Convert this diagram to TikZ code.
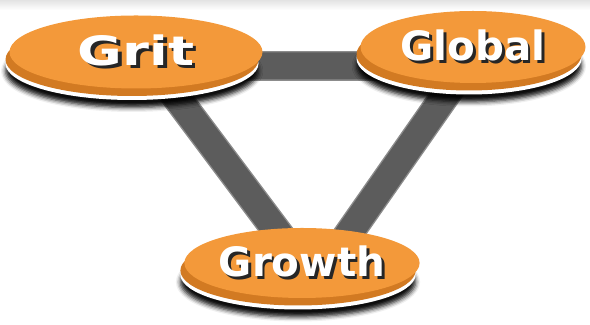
\documentclass[tikz,border=0pt]{standalone}
\usepackage{fontspec}
\setmainfont{DejaVu Sans}
\usetikzlibrary{shapes.geometric,shadows,shadows.blur,backgrounds}

\definecolor{discorange}{HTML}{F3993A}
\definecolor{discrim}{HTML}{D27A22}
\definecolor{bargray}{HTML}{5C5C5C}
\definecolor{baredge}{HTML}{8C8C8C}

% white lettering with a dark drop below right
\newcommand{\discword}[1]{{\rlap{\hspace{1.5pt}\raisebox{-1.8pt}{\color{black!85}#1}}\color{white}#1}}

\begin{document}
\begin{tikzpicture}[
 disc/.style={shape=ellipse,inner sep=0pt,fill=discorange,
  blur shadow={shadow xshift=-0.08cm,shadow yshift=-0.38cm,shadow blur radius=0.09cm,shadow opacity=95},
  general shadow={fill=white,shadow yshift=-0.23cm},
  general shadow={fill=discrim,shadow yshift=-0.15cm},
  font=\bfseries\fontsize{23}{26}\selectfont},
 bar/.style={draw=baredge,line width=0.8pt,double=bargray,double distance=0.54cm}]
 \useasboundingbox (0,0) rectangle (11.8,6.5);
 \node (grit) at (2.72,5.46) [disc,minimum width=5.06cm,minimum height=1.46cm] {\scalebox{1.35}[1]{\discword{Grit}}};
 \node (global) at (9.46,5.56) [disc,minimum width=4.5cm,minimum height=1.44cm] {\discword{Global}};
 \node (growth) at (6.04,1.24) [disc,minimum width=4.7cm,minimum height=1.4cm] {\discword{Growth}};
 \begin{scope}[on background layer]
 \fill[top color=gray!22,bottom color=white] (0,6.3) rectangle (11.8,6.5);
 \draw[bar] ([shift={(0.34,-0.28)}]grit.center) -- ([shift={(-0.14,-0.38)}]global.center);
 \draw[bar] ([shift={(0.34,-0.28)}]grit.center) -- ([shift={(0.26,-0.38)}]growth.center);
 \draw[bar] ([shift={(-0.14,-0.38)}]global.center) -- ([shift={(0.26,-0.38)}]growth.center);
 \end{scope}
\end{tikzpicture}
\end{document}
